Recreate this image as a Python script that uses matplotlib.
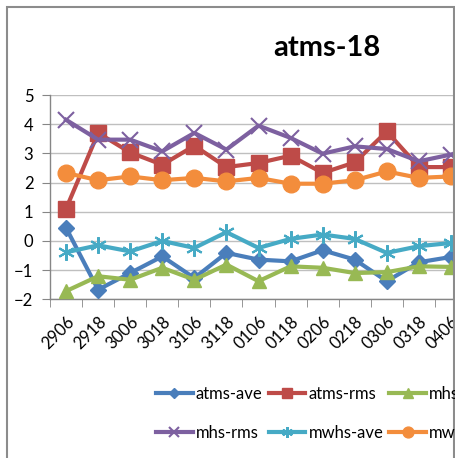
import matplotlib.pyplot as plt
from matplotlib.patches import Rectangle
import numpy as np

plt.rcParams['font.family'] = ['Lato', 'DejaVu Sans']

# categories (time labels)
labels = ["2906", "2918", "3006", "3018", "3106", "3118", "0106",
          "0118", "0206", "0218", "0306", "0318", "0406"]

atms_ave = [0.45, -1.67, -1.10, -0.53, -1.27, -0.41, -0.64, -0.70, -0.32, -0.64, -1.38, -0.73, -0.55]
atms_rms = [1.10, 3.70, 3.03, 2.61, 3.26, 2.53, 2.67, 2.92, 2.33, 2.69, 3.75, 2.53, 2.53]
mhs_ave = [-1.72, -1.21, -1.33, -0.92, -1.33, -0.81, -1.38, -0.87, -0.92, -1.10, -1.07, -0.87, -0.89]
mhs_rms = [4.15, 3.47, 3.47, 3.07, 3.70, 3.13, 3.95, 3.53, 2.99, 3.24, 3.15, 2.73, 2.96]
mwhs_ave = [-0.39, -0.15, -0.36, 0.0, -0.24, 0.30, -0.24, 0.07, 0.22, 0.07, -0.41, -0.18, -0.07]
mwhs_rms = [2.33, 2.08, 2.21, 2.08, 2.16, 2.04, 2.16, 1.96, 1.96, 2.08, 2.38, 2.16, 2.21]

W, H = 455, 458
fig = plt.figure(figsize=(W / 100, H / 100), dpi=100)

# outer chart frame (cropped on bottom)
fig.patches.append(Rectangle((7 / W, -0.1), 447 / W, 1.1 - 7 / H,
                             transform=fig.transFigure, fill=False,
                             edgecolor="#8c8c8c", linewidth=1.5))

# plot area extends past the right edge of the picture
ax = fig.add_axes([50 / W, 1 - 299.3 / H, 417 / W, 204.3 / H])
x = np.arange(len(labels))

series = [
    ("atms-ave", atms_ave, "#4A7EBB", "D", 8),
    ("atms-rms", atms_rms, "#BE4B48", "s", 11),
    ("mhs-ave", mhs_ave, "#98B954", "^", 10),
    ("mhs-rms", mhs_rms, "#7D60A0", "x", 11),
    ("mwhs-ave", mwhs_ave, "#46AAC5", (6, 2, 0), 12),
    ("mwhs-rms", mwhs_rms, "#F38D3C", "o", 12),
]

handles = {}
for name, vals, color, marker, ms in series:
    thin = marker in ("x",) or isinstance(marker, tuple)
    line, = ax.plot(x, vals, color=color, linewidth=3, marker=marker,
                    markersize=ms, markeredgewidth=1.5 if thin else 1,
                    markeredgecolor=color, markerfacecolor=color,
                    label=name, clip_on=False, zorder=3)
    handles[name] = line

ax.set_xlim(-0.5, len(labels) - 0.5)
ax.set_ylim(-2, 5)
ax.set_yticks(range(-2, 6))
ax.grid(axis="y", color="#bfbfbf", linewidth=1)
ax.set_axisbelow(True)

for side in ("top", "right"):
    ax.spines[side].set_visible(False)
for side in ("left", "bottom"):
    ax.spines[side].set_color("#868686")
    ax.spines[side].set_linewidth(1)

ax.set_xticks(x)
ax.set_xticklabels(labels, rotation=45, ha="right", rotation_mode="anchor")
ax.set_xticks(np.arange(-0.5, len(labels)), minor=True)
ax.tick_params(axis="x", which="major", length=0, pad=10, labelsize=12)
ax.tick_params(axis="x", which="minor", length=6, color="#868686")
ax.tick_params(axis="y", length=6, color="#868686", labelsize=12, pad=6)

fig.text(327 / W, 1 - 48 / H, "atms-18", fontsize=21, fontweight="bold",
         ha="center", va="center")

order = ["atms-ave", "mhs-rms", "atms-rms", "mwhs-ave", "mhs-ave", "mwhs-rms"]
fig.legend([handles[n] for n in order], order, ncol=3, frameon=False,
           loc="upper left", bbox_to_anchor=(156 / W, 1 - 386 / H),
           borderaxespad=0, borderpad=0, fontsize=12, handlelength=2.2,
           handletextpad=0.2, columnspacing=0.35, labelspacing=1.35,
           markerscale=0.65)

fig.savefig("out.png", dpi=100)
